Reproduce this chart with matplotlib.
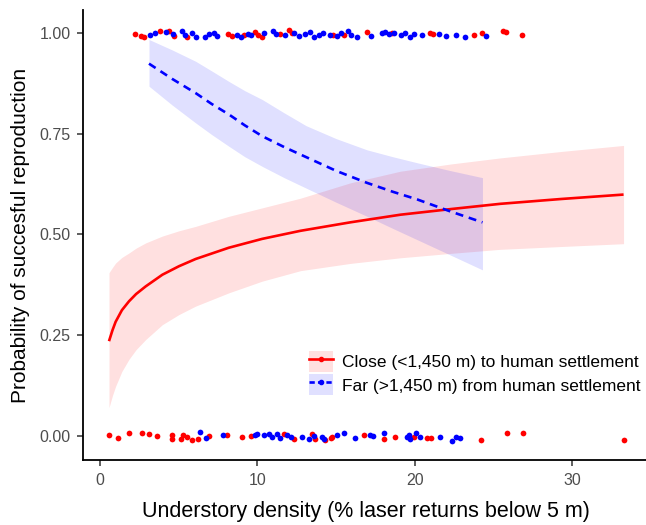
import matplotlib
matplotlib.use("Agg")
import matplotlib.pyplot as plt
from matplotlib.patches import Patch
from matplotlib.lines import Line2D
import numpy as np

plt.rcParams['font.family'] = ['Liberation Sans', 'DejaVu Sans']

# fitted curve for sites close to settlement (x = understory density, y = probability)
close_x = [0.58, 0.8, 1.0, 1.4, 1.85, 2.3, 2.91, 3.97, 5.02, 6.08, 8.19, 10.31, 12.74, 15.9, 19.09, 22.3,
           25.43, 29.3, 33.26]
close_fit = [0.235, 0.262, 0.283, 0.312, 0.334, 0.352, 0.371, 0.400, 0.421, 0.439, 0.467, 0.489, 0.509, 0.530,
             0.549, 0.563, 0.576, 0.588, 0.599]
close_lo = [0.070, 0.100, 0.123, 0.160, 0.190, 0.214, 0.239, 0.276, 0.301, 0.322, 0.355, 0.384, 0.410, 0.428,
            0.442, 0.453, 0.463, 0.470, 0.477]
close_hi = [0.405, 0.418, 0.429, 0.443, 0.454, 0.466, 0.479, 0.496, 0.509, 0.520, 0.545, 0.566, 0.590, 0.628,
            0.657, 0.675, 0.690, 0.706, 0.721]

# fitted curve for sites far from settlement
far_x = [3.12, 4.6, 6.08, 7.1, 8.19, 9.2, 10.31, 11.7, 13.1, 15.0, 16.97, 18.6, 20.15, 22.2, 24.3]
far_fit = [0.924, 0.886, 0.851, 0.824, 0.798, 0.771, 0.744, 0.717, 0.692, 0.658, 0.628, 0.606, 0.587, 0.558, 0.530]
far_lo = [0.868, 0.821, 0.777, 0.748, 0.719, 0.693, 0.669, 0.641, 0.615, 0.580, 0.545, 0.515, 0.487, 0.450, 0.412]
far_hi = [0.984, 0.958, 0.930, 0.906, 0.880, 0.857, 0.835, 0.802, 0.770, 0.738, 0.710, 0.693, 0.678, 0.659, 0.641]

# observed nests (jittered around 0 / 1)
close_top_x = [2.25, 2.59, 2.81, 3.83, 4.41, 4.74, 5.54, 8.14, 8.37, 9.16, 9.85, 10.07, 10.29, 11.43,
               12.00, 12.23, 14.83, 15.51, 16.98, 18.58, 20.95, 21.18, 23.78, 24.24, 25.60, 25.82, 26.8]
close_top_y = [0.997, 0.993, 0.990, 1.004, 1.006, 0.993, 0.991, 0.998, 0.992, 0.995, 1.002, 0.996, 0.990, 0.998,
               1.007, 1.000, 0.994, 0.996, 1.003, 1.001, 1.000, 0.997, 0.996, 1.001, 1.006, 1.002, 0.995]
far_top_x = [3.16, 3.50, 4.18, 4.63, 5.19, 5.43, 5.88, 6.10, 6.67, 6.90, 7.23, 7.47, 8.71, 8.94, 9.39, 9.62,
             10.41, 10.98, 11.20, 11.77, 12.34, 12.67, 13.02, 13.36, 13.58, 13.92, 14.15, 14.60, 15.05, 15.29,
             15.73, 15.96, 16.30, 17.21, 17.89, 18.11, 18.34, 18.69, 19.13, 19.36, 19.70, 19.93, 20.49, 21.51,
             21.98, 22.65, 23.22, 24.5]
far_top_y = [0.995, 1.000, 1.003, 0.997, 1.005, 0.996, 0.999, 0.990, 0.991, 0.997, 1.000, 0.993, 0.996, 0.991,
             0.998, 0.994, 1.000, 1.004, 0.997, 0.995, 1.001, 0.992, 0.998, 1.003, 0.990, 0.995, 1.000, 0.996,
             0.993, 0.999, 1.004, 0.995, 0.991, 0.993, 0.999, 1.003, 0.997, 1.001, 0.995, 0.999, 0.991, 0.997,
             0.995, 0.998, 0.992, 0.995, 0.990, 0.992]
close_bot_x = [0.58, 1.17, 1.85, 2.70, 3.12, 3.65, 4.56, 4.56, 5.13, 5.27, 5.55, 5.87, 6.25, 6.92, 8.09, 9.04,
               9.57, 11.68, 12.32, 13.48, 13.69, 14.33, 14.65, 14.75, 16.76, 18.03, 18.77, 19.93, 20.78, 21.03,
               24.21, 25.86, 26.87, 33.30]
close_bot_y = [0.003, -0.005, 0.006, 0.006, 0.005, -0.001, 0.003, -0.009, -0.008, 0.001, -0.004, -0.011, -0.007,
               -0.001, 0.001, -0.002, 0.000, 0.005, -0.008, 0.004, -0.007, -0.010, -0.006, -0.003, 0.001, -0.009,
               -0.002, -0.004, -0.005, -0.005, -0.011, 0.008, 0.007, -0.011]
far_bot_x = [6.33, 6.71, 7.81, 9.84, 9.99, 10.41, 10.73, 10.95, 11.26, 11.47, 11.90, 12.11, 12.85, 13.27, 13.59,
             14.12, 14.22, 15.07, 15.49, 16.23, 17.18, 17.35, 18.03, 19.51, 19.61, 19.72, 20.10, 20.35, 21.62,
             22.37, 22.64, 22.89]
far_bot_y = [0.009, -0.006, 0.002, 0.003, 0.004, 0.001, 0.004, -0.004, 0.004, -0.005, 0.002, -0.004, -0.003,
             -0.007, -0.001, -0.003, -0.009, 0.003, 0.006, -0.005, 0.003, -0.001, 0.006, -0.003, 0.003, -0.008,
             0.008, -0.004, -0.002, -0.012, -0.002, -0.005]

xticks = [0, 10, 20, 30]
yticks = [0.0, 0.25, 0.5, 0.75, 1.0]
ytick_labels = ['0.00', '0.25', '0.50', '0.75', '1.00']
close_label = 'Close (<1,450 m) to human settlement'
far_label = 'Far (>1,450 m) from human settlement'

RED = '#FF0000'
BLUE = '#0000FF'

fig = plt.figure(figsize=(6.46, 5.25), dpi=100)
ax = fig.add_axes([0.1285, 0.1238, 0.876, 0.857])

ax.fill_between(close_x, close_lo, close_hi, color=RED, alpha=0.12, lw=0)
ax.fill_between(far_x, far_lo, far_hi, color=BLUE, alpha=0.12, lw=0)

pt = dict(s=17, lw=0, zorder=3)
ax.scatter(close_top_x, close_top_y, color=RED, **pt)
ax.scatter(far_top_x, far_top_y, color=BLUE, **pt)
ax.scatter(close_bot_x, close_bot_y, color=RED, **pt)
ax.scatter(far_bot_x, far_bot_y, color=BLUE, **pt)

ax.plot(close_x, close_fit, color=RED, lw=1.9, solid_capstyle='butt', zorder=4)
ax.plot(far_x, far_fit, color=BLUE, lw=1.9, dashes=(3.0, 2.2), zorder=4)

ax.set_xlim(-1.07, 34.87)
ax.set_ylim(-0.06, 1.057)
ax.set_xticks(xticks)
ax.set_yticks(yticks)
ax.set_yticklabels(ytick_labels)

for side in ['top', 'right']:
    ax.spines[side].set_visible(False)
for side in ['left', 'bottom']:
    ax.spines[side].set_linewidth(1.3)
ax.tick_params(axis='both', direction='out', length=4, width=1.1, color='#333333',
               labelcolor='#4D4D4D', labelsize=11.5, pad=5)

ax.set_xlabel('Understory density (% laser returns below 5 m)', fontsize=15.5, labelpad=10)
ax.set_ylabel('Probability of succesful reproduction', fontsize=15, labelpad=7)

h_close = (Patch(facecolor=RED, alpha=0.12, lw=0),
           Line2D([], [], color=RED, lw=1.9, marker='o', markersize=3))
h_far = (Patch(facecolor=BLUE, alpha=0.12, lw=0),
         Line2D([], [], color=BLUE, lw=1.9, dashes=(2.0, 1.2), marker='o', markersize=3))
ax.legend([h_close, h_far], [close_label, far_label], loc='lower right',
          bbox_to_anchor=(0.997, 0.128), borderaxespad=0, frameon=False, fontsize=12.5,
          handlelength=1.4, handleheight=1.5, handletextpad=0.5, labelspacing=0.15)

fig.savefig('out.png', dpi=100)
